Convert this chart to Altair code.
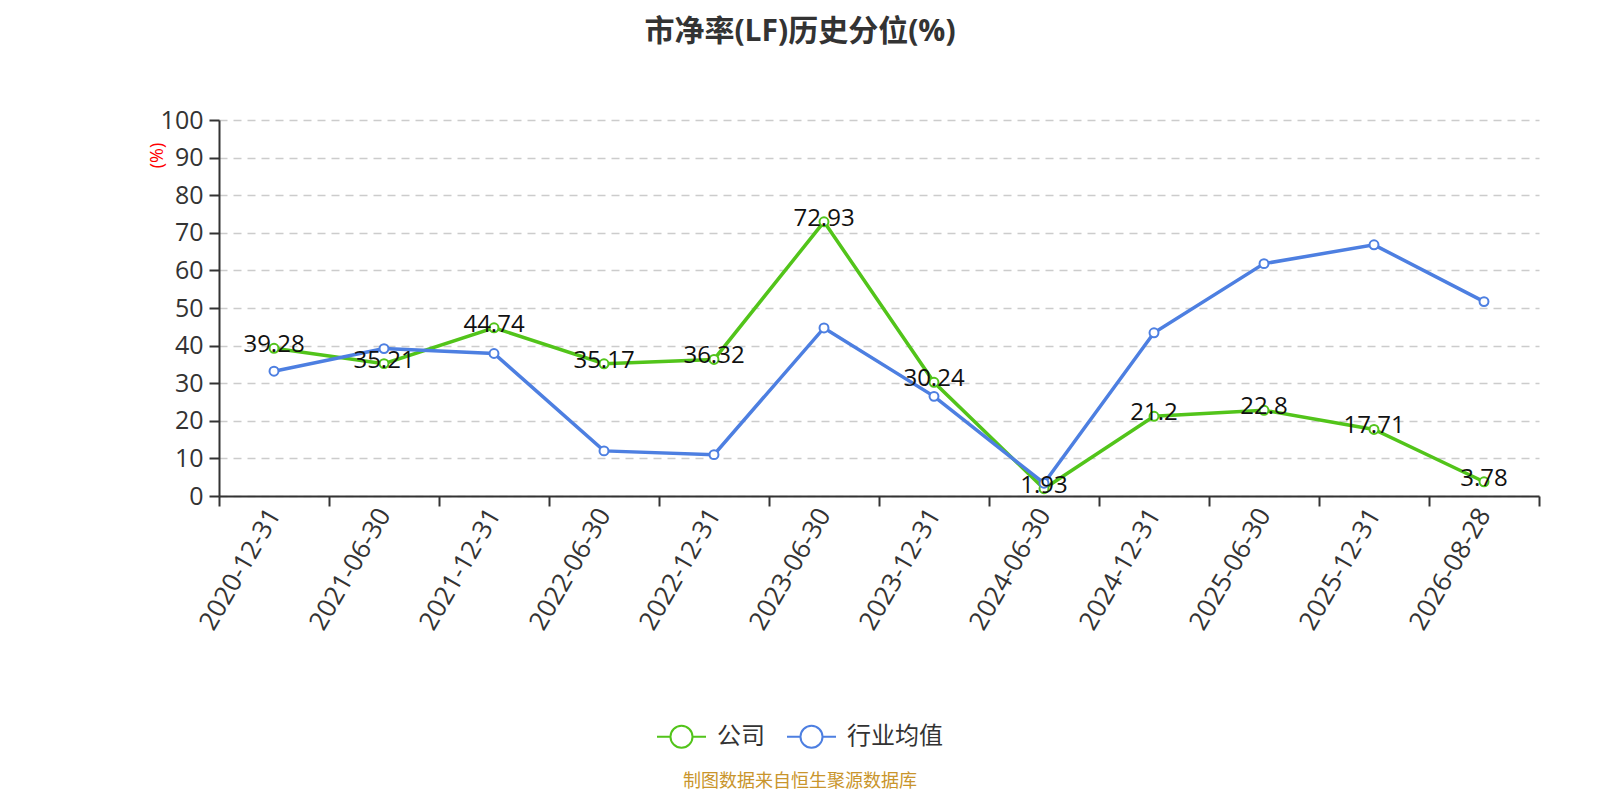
import altair as alt
import pandas as pd

dates = ["2020-12-31", "2021-06-30", "2021-12-31", "2022-06-30", "2022-12-31", "2023-06-30",
         "2023-12-31", "2024-06-30", "2024-12-31", "2025-06-30", "2025-12-31", "2026-08-28"]
company = [39.28, 35.21, 44.74, 35.17, 36.32, 72.93, 30.24, 1.93, 21.2, 22.8, 17.71, 3.78]
industry = [33.2, 39.2, 37.9, 12.0, 11.0, 44.7, 26.5, 3.4, 43.4, 61.8, 66.8, 51.7]
series_names = ["公司", "行业均值"]
series_colors = ["#52c41a", "#4d7fe1"]
y_ticks = [0, 10, 20, 30, 40, 50, 60, 70, 80, 90, 100]
title_text = "市净率(LF)历史分位(%)"
source_text = "制图数据来自恒生聚源数据库"

FONT = "Open Sans, Noto Sans CJK SC, sans-serif"

rows = []
for d, c, i in zip(dates, company, industry):
    rows.append({"date": d, "series": series_names[0], "value": c})
    rows.append({"date": d, "series": series_names[1], "value": i})
df = pd.DataFrame(rows)
df_company = df[df["series"] == series_names[0]]

legend_path = "M-1,0L-0.45,0M0.45,0L1,0M0.45,0A0.45,0.45,0,1,1,-0.45,0A0.45,0.45,0,1,1,0.45,0"
legend = alt.Legend(
    title=None, orient="none", direction="horizontal", legendX=437, legendY=591,
    symbolType=legend_path, symbolSize=2401, symbolStrokeWidth=2,
    symbolFillColor="white", labelFontSize=24, labelColor="#333333", labelFont=FONT,
    labelOffset=10, columnPadding=18,
)
color = alt.Color("series:N", scale=alt.Scale(domain=series_names, range=series_colors),
                  legend=legend)

x_enc = alt.X("date:N", sort=dates, title=None,
              scale=alt.Scale(type="band", paddingInner=0, paddingOuter=0),
              axis=alt.Axis(labelAngle=-60, labelFontSize=26, labelColor="#333333",
                            labelFont=FONT, tickBand="extent", tickSize=10, tickWidth=2,
                            tickColor="#333333", domainColor="#333333", domainWidth=2,
                            labelPadding=4, grid=False))
y_enc = alt.Y("value:Q", title="(%)", scale=alt.Scale(domain=[0, 100], nice=False),
              axis=alt.Axis(values=y_ticks, tickCount=11, labelFontSize=25,
                            labelColor="#333333", labelOverlap=False,
                            labelFont=FONT, tickSize=10, tickWidth=2, tickColor="#333333",
                            domainColor="#333333", domainWidth=2, labelPadding=6,
                            grid=True, gridColor="#cccccc", gridDash=[8, 6], gridWidth=1.5,
                            titleColor="red", titleFontSize=18, titleFontWeight="normal",
                            titleFont=FONT, titleX=-62, titleY=35, titleAngle=270,
                            titleAlign="center", titleBaseline="middle"))

base = alt.Chart(df).encode(x=x_enc, y=y_enc, color=color)
lines = base.mark_line(strokeWidth=3.5)
points = base.mark_point(filled=False, fill="white", size=80, strokeWidth=2, opacity=1)

labels = alt.Chart(df_company).mark_text(
    fontSize=24, font=FONT, color="#111111", dy=-3, baseline="middle", align="center"
).encode(x=x_enc, y=y_enc, text="value:N")

note = alt.Chart(pd.DataFrame({"note": [source_text]})).mark_text(
    fontSize=18, font=FONT, color="#c9952c", align="center", baseline="middle"
).encode(x=alt.value(581), y=alt.value(662), text="note:N")

chart = alt.layer(lines, points, labels, note).properties(
    width=1320, height=376,
    title=alt.TitleParams(title_text, fontSize=30, fontWeight="bold", color="#333333",
                          font=FONT, anchor="middle", dx=-79, offset=61),
    autosize=alt.AutoSizeParams(type="none"),
    padding={"left": 211, "top": 112, "right": 53, "bottom": 296},
).configure_view(stroke=None)

chart.save("out.html", embed_options={"renderer": "svg", "actions": False})
